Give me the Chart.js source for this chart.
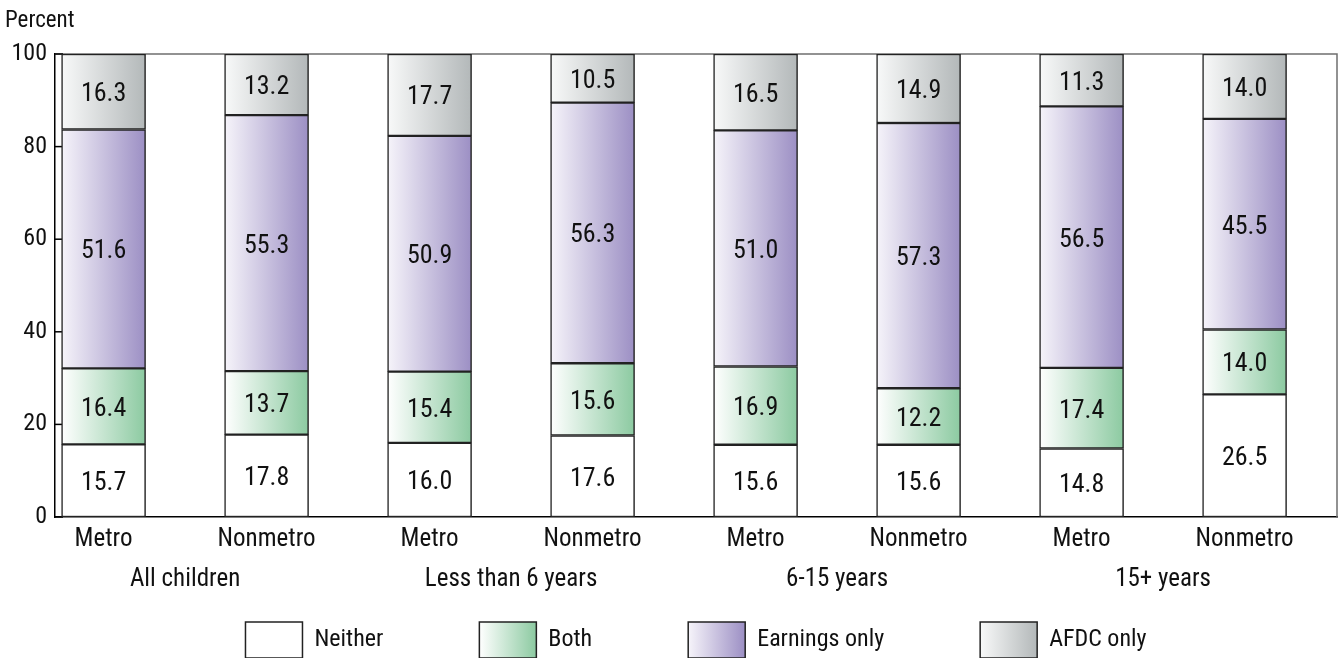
<!DOCTYPE html>
<html>
<head>
<meta charset="utf-8">
<title>Children by earnings and AFDC receipt</title>
<script src="https://cdn.jsdelivr.net/npm/chart.js@4/dist/chart.umd.min.js"></script>
<style>
  html, body { margin: 0; padding: 0; background: #ffffff; }
  #wrap { width: 1340px; height: 658px; }
</style>
</head>
<body>
<div id="wrap"><canvas id="chart" width="1340" height="658"></canvas></div>
<script>
// Bars, left to right: Metro / Nonmetro within each age group
const categories = ['Metro', 'Nonmetro', 'Metro', 'Nonmetro', 'Metro', 'Nonmetro', 'Metro', 'Nonmetro'];
const groups = ['All children', 'Less than 6 years', '6-15 years', '15+ years'];

// Percent of children in each category (stacked bottom to top)
const neither      = [15.7, 17.8, 16.0, 17.6, 15.6, 15.6, 14.8, 26.5];
const both         = [16.4, 13.7, 15.4, 15.6, 16.9, 12.2, 17.4, 14.0];
const earningsOnly = [51.6, 55.3, 50.9, 56.3, 51.0, 57.3, 56.5, 45.5];
const afdcOnly     = [16.3, 13.2, 17.7, 10.5, 16.5, 14.9, 11.3, 14.0];

const seriesNames = ['Neither', 'Both', 'Earnings only', 'AFDC only'];
const percentTicks = [0, 20, 40, 60, 80, 100];

const FONT = "'Roboto Condensed', 'DejaVu Sans Condensed', sans-serif";
const TEXT = '#111111';
const BAR_W = 84;

// Each bar fades from a pale left edge to its full colour on the right
const shades = [
  ['#ffffff', '#ffffff'],
  ['#ffffff', '#8ccaa1'],
  ['#f6f4fa', '#9c8fc4'],
  ['#f8f9f9', '#b3b8b9']
];

function barFill(index) {
  return (ctx) => {
    const [from, to] = shades[index];
    if (ctx.type !== 'data') return to;
    const chart = ctx.chart;
    const xs = chart.scales.x;
    if (!xs || !chart.chartArea || !ctx.parsed) return to;
    const px = xs.getPixelForValue(ctx.parsed.x);
    const g = chart.ctx.createLinearGradient(px - BAR_W / 2, 0, px + BAR_W / 2, 0);
    g.addColorStop(0, from);
    g.addColorStop(1, to);
    return g;
  };
}

const toPoints = (arr) => arr.map((v, i) => ({ x: i, y: v }));

const seriesValues = [neither, both, earningsOnly, afdcOnly];
const datasets = seriesValues.map((vals, k) => ({
  label: seriesNames[k],
  data: toPoints(vals),
  backgroundColor: barFill(k),
  borderColor: '#222222',
  borderWidth: 1.5,
  borderSkipped: false,
  barThickness: BAR_W
}));

// Plot frame (top and right edges) and short inward tick marks on the value axis
const framePlugin = {
  id: 'frame',
  beforeDatasetsDraw(chart) {
    const { ctx, chartArea: a } = chart;
    ctx.save();
    ctx.strokeStyle = '#6f6f6f';
    ctx.lineWidth = 1.5;
    ctx.beginPath();
    ctx.moveTo(a.left, a.top);
    ctx.lineTo(a.right, a.top);
    ctx.lineTo(a.right, a.bottom + 1);
    ctx.stroke();
    const ys = chart.scales.y;
    ctx.strokeStyle = '#000000';
    ys.ticks.forEach(t => {
      const y = ys.getPixelForValue(t.value);
      ctx.beginPath();
      ctx.moveTo(a.left, y);
      ctx.lineTo(a.left + 8, y);
      ctx.stroke();
    });
    ctx.restore();
  }
};

// Value printed in the middle of every stacked segment
const valueLabels = {
  id: 'valueLabels',
  afterDatasetsDraw(chart) {
    const ctx = chart.ctx;
    ctx.save();
    ctx.font = '26px ' + FONT;
    ctx.fillStyle = TEXT;
    ctx.textAlign = 'center';
    ctx.textBaseline = 'middle';
    chart.data.datasets.forEach((ds, i) => {
      const meta = chart.getDatasetMeta(i);
      meta.data.forEach((bar, j) => {
        const { x, y, base } = bar.getProps(['x', 'y', 'base'], true);
        ctx.fillText(ds.data[j].y.toFixed(1), x, (y + base) / 2 + 3);
      });
    });
    ctx.restore();
  }
};

// Legend swatches get the same left-to-right fade as the bars
const legendFill = {
  id: 'legendFill',
  beforeDraw(chart) {
    const lg = chart.legend;
    if (!lg || !lg.legendItems || !lg.legendHitBoxes) return;
    const bw = lg.options.labels.boxWidth;
    lg.legendItems.forEach((item, i) => {
      const hb = lg.legendHitBoxes[i];
      if (!hb) return;
      const [from, to] = shades[item.datasetIndex];
      const g = chart.ctx.createLinearGradient(hb.left, 0, hb.left + bw, 0);
      g.addColorStop(0, from);
      g.addColorStop(1, to);
      item.fillStyle = g;
    });
  }
};

const X_MIN = -0.298, X_MAX = 7.567;

new Chart(document.getElementById('chart'), {
  type: 'bar',
  data: { datasets },
  plugins: [framePlugin, valueLabels, legendFill],
  options: {
    responsive: false,
    animation: false,
    events: [],
    layout: { padding: { left: 5, right: 3, top: 0, bottom: -10 } },
    scales: {
      x: {
        type: 'linear',
        min: X_MIN, max: X_MAX,
        stacked: true,
        offset: false,
        grid: { display: false, drawTicks: false },
        border: { display: true, color: '#000000', width: 1.5 },
        afterBuildTicks: (s) => { s.ticks = categories.map((_, i) => ({ value: i })); },
        afterFit: (s) => { s.height = 5; },
        ticks: {
          autoSkip: false, maxRotation: 0, padding: -38, mirror: true,
          color: TEXT, font: { family: FONT, size: 25 },
          callback: (v) => categories[v]
        }
      },
      groupAxis: {
        type: 'linear',
        axis: 'x',
        position: 'bottom',
        weight: 1,
        min: X_MIN, max: X_MAX,
        offset: false,
        grid: { display: false, drawTicks: false },
        border: { display: false },
        afterBuildTicks: (s) => { s.ticks = groups.map((_, g) => ({ value: g * 2 + 0.5 })); },
        afterFit: (s) => { s.height = 4; },
        ticks: {
          autoSkip: false, maxRotation: 0, padding: -73, mirror: true,
          color: TEXT, font: { family: FONT, size: 25 },
          callback: (v) => groups[(v - 0.5) / 2]
        }
      },
      y: {
        stacked: true,
        min: 0, max: 100,
        afterBuildTicks: (s) => { s.ticks = percentTicks.map(v => ({ value: v })); },
        afterFit: (s) => { s.width = 50; },
        grid: { display: false, drawTicks: false },
        border: { display: true, color: '#000000', width: 1.5 },
        ticks: { padding: 8, color: TEXT, font: { family: FONT, size: 24 } }
      }
    },
    plugins: {
      title: {
        display: true,
        text: 'Percent',
        align: 'start',
        color: TEXT,
        font: { family: FONT, size: 23, weight: 'normal' },
        padding: { top: 7, bottom: 19.4 }
      },
      legend: {
        position: 'bottom',
        fullSize: false,
        labels: {
          boxWidth: 57,
          boxHeight: 36,
          padding: 96,
          color: TEXT,
          font: { family: FONT, size: 24 }
        }
      },
      tooltip: { enabled: false }
    }
  }
});
</script>
</body>
</html>
